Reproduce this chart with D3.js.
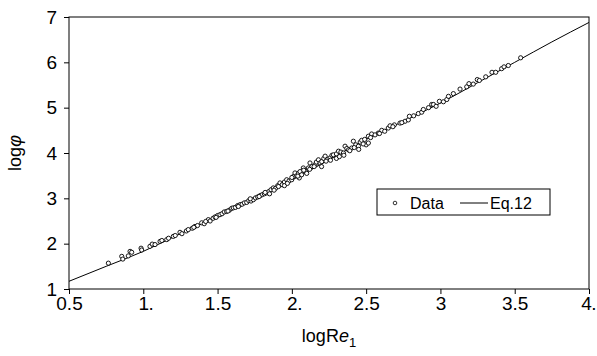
<!DOCTYPE html>
<html>
<head>
<meta charset="utf-8">
<script src="https://cdn.jsdelivr.net/npm/d3@7"></script>
<style>
  body { margin: 0; background: #fff; }
  svg { font-family: "Liberation Sans", Arial, sans-serif; }
</style>
</head>
<body>
<svg id="chart" width="597" height="356"></svg>
<script>
// measured points (logRe1, log phi)
var dataX = [0.765,0.855,0.862,0.899,0.911,0.922,0.985,0.989,1.045,1.060,1.079,1.113,1.125,1.158,1.170,1.202,1.215,1.247,1.260,1.290,1.303,1.330,1.348,1.365,1.393,1.410,1.438,1.450,1.470,1.483,1.500,1.516,1.530,1.545,1.561,1.580,1.595,1.606,1.620,1.635,1.651,1.665,1.680,1.696,1.710,1.725,1.741,1.755,1.770,1.786,1.800,1.815,1.831,1.845,1.850,1.860,1.875,1.890,1.905,1.920,1.935,1.950,1.950,1.965,1.980,1.999,2.010,2.021,2.033,2.045,2.050,2.055,2.066,2.077,2.090,2.100,2.111,2.122,2.135,2.156,2.165,2.179,2.190,2.200,2.201,2.215,2.224,2.240,2.257,2.270,2.280,2.300,2.300,2.314,2.330,2.347,2.350,2.358,2.370,2.381,2.403,2.414,2.430,2.448,2.450,2.460,2.470,2.490,2.500,2.515,2.515,2.537,2.560,2.582,2.605,2.625,2.649,2.661,2.690,2.728,2.762,2.784,2.791,2.820,2.851,2.874,2.885,2.920,2.941,2.953,2.971,2.993,3.020,3.043,3.054,3.087,3.132,3.177,3.192,3.221,3.248,3.262,3.305,3.347,3.372,3.412,3.428,3.457,3.540,
             1.340,1.420,1.490,1.570,1.640,1.720,1.780,1.820,1.880,1.910,1.970,2.000,2.040,2.080,2.120,2.150,2.230,2.260,2.320,2.390,2.420,2.480,2.530,2.590,2.680,2.740];
var dataY = [1.57,1.72,1.66,1.73,1.83,1.81,1.90,1.86,1.94,1.99,1.98,2.05,2.07,2.09,2.12,2.16,2.18,2.25,2.22,2.28,2.31,2.34,2.38,2.40,2.46,2.44,2.53,2.50,2.56,2.59,2.62,2.64,2.66,2.70,2.71,2.74,2.78,2.79,2.80,2.84,2.86,2.87,2.90,2.91,2.95,2.94,2.97,3.01,3.03,3.06,3.08,3.10,3.12,3.15,3.10,3.19,3.23,3.22,3.28,3.34,3.30,3.36,3.28,3.41,3.38,3.41,3.48,3.56,3.50,3.55,3.45,3.59,3.52,3.67,3.60,3.55,3.67,3.78,3.70,3.74,3.80,3.85,3.78,3.70,3.81,3.88,3.93,3.86,3.89,3.95,3.96,3.98,3.88,4.04,4.02,4.00,3.95,4.15,4.10,4.07,4.11,4.26,4.18,4.15,4.08,4.24,4.28,4.30,4.18,4.37,4.22,4.42,4.40,4.44,4.50,4.48,4.55,4.60,4.62,4.66,4.70,4.73,4.81,4.82,4.87,4.90,4.96,5.00,5.07,5.07,5.03,5.14,5.13,5.18,5.25,5.31,5.41,5.46,5.53,5.52,5.62,5.60,5.68,5.78,5.78,5.86,5.90,5.93,6.10,
             2.36,2.49,2.58,2.72,2.82,2.99,3.04,3.13,3.18,3.26,3.33,3.46,3.49,3.62,3.64,3.70,3.82,3.84,3.92,4.05,4.12,4.20,4.34,4.43,4.58,4.67];

// Eq.12 curve
var eqX = [0.5,0.75,1.0,1.25,1.5,1.75,2.0,2.25,2.5,2.75,3.0,3.25,3.5,3.75,4.0];
var eqY = [1.17,1.50,1.83,2.22,2.60,2.98,3.40,3.85,4.30,4.70,5.10,5.55,6.00,6.45,6.88];

var xTicks = [0.5,1,1.5,2,2.5,3,3.5,4];
var xTickLabels = ["0.5","1.","1.5","2.","2.5","3","3.5","4."];
var yTicks = [1,2,3,4,5,6,7];

var svg = d3.select("#chart"),
    margin = {top: 17, right: 8, bottom: 67, left: 69},
    width = +svg.attr("width") - margin.left - margin.right,
    height = +svg.attr("height") - margin.top - margin.bottom,
    g = svg.append("g").attr("transform", "translate(" + margin.left + "," + margin.top + ")");

var x = d3.scaleLinear().domain([0.5, 4]).range([0, width]);
var y = d3.scaleLinear().domain([1, 7]).range([height, 0]);

// frame
g.append("rect")
    .attr("width", width).attr("height", height)
    .attr("fill", "none").attr("stroke", "#000").attr("stroke-width", 1);

var xAxis = g.append("g")
    .attr("transform", "translate(0," + height + ")")
    .call(d3.axisBottom(x).tickValues(xTicks).tickSize(5).tickPadding(3).tickFormat(function(d, i) { return xTickLabels[i]; }));
xAxis.select(".domain").remove();
xAxis.selectAll("text")
    .attr("font-size", 19).attr("fill", "#000")
    .each(function(d, i) {
      // digit stays centred on the tick, the trailing dot hangs to the right
      var lab = xTickLabels[i], t = d3.select(this);
      if (/\.$/.test(lab)) {
        t.text(lab.slice(0, -1));
        var w = this.getComputedTextLength();
        var shift = i === xTicks.length - 1 ? -3 : 0;  // last one sits at the page edge
        t.attr("x", shift);
        d3.select(this.parentNode).append("text")
            .attr("x", w / 2 + shift - 0.5).attr("y", t.attr("y")).attr("dy", t.attr("dy"))
            .attr("text-anchor", "start").attr("font-size", 19).attr("fill", "#000")
            .text(".");
      }
    });

var yAxis = g.append("g")
    .call(d3.axisLeft(y).tickValues(yTicks).tickSize(5).tickPadding(7).tickFormat(d3.format("d")));
yAxis.select(".domain").remove();
yAxis.selectAll("text").attr("font-size", 19).attr("fill", "#000");

svg.selectAll(".tick line").attr("stroke", "#000");

// axis titles
var xt = svg.append("text")
    .attr("x", margin.left + width / 2).attr("y", 342)
    .attr("text-anchor", "middle").attr("font-size", 18);
xt.append("tspan").text("logR");
xt.append("tspan").attr("font-style", "italic").text("e");
xt.append("tspan").attr("font-size", 13).attr("dy", 5).text("1");

var yt = svg.append("text")
    .attr("transform", "translate(21," + (margin.top + height / 2) + ") rotate(-90)")
    .attr("text-anchor", "middle").attr("font-size", 18);
yt.append("tspan").text("log");
yt.append("tspan").attr("font-style", "italic").text("\u03c6");

// Eq.12 line
var line = d3.line()
    .x(function(d, i) { return x(eqX[i]); })
    .y(function(d, i) { return y(eqY[i]); })
    .curve(d3.curveMonotoneX);

g.append("path")
    .datum(eqX)
    .attr("fill", "none")
    .attr("stroke", "#000")
    .attr("stroke-width", 1)
    .attr("d", line);

// data circles
g.selectAll(".pt")
    .data(dataX)
  .enter().append("circle")
    .attr("class", "pt")
    .attr("cx", function(d) { return x(d); })
    .attr("cy", function(d, i) { return y(dataY[i]); })
    .attr("r", 2.1)
    .attr("fill", "#fff")
    .attr("stroke", "#000")
    .attr("stroke-width", 0.9);

// legend
var lg = svg.append("g").attr("transform", "translate(377,189)");
lg.append("rect").attr("width", 173).attr("height", 26)
    .attr("fill", "#fff").attr("stroke", "#000").attr("stroke-width", 1);
lg.append("circle").attr("cx", 18).attr("cy", 14).attr("r", 1.8)
    .attr("fill", "#fff").attr("stroke", "#000").attr("stroke-width", 0.8);
lg.append("text").attr("x", 33).attr("y", 20).attr("font-size", 16).text("Data");
lg.append("line").attr("x1", 83).attr("x2", 111).attr("y1", 14).attr("y2", 14)
    .attr("stroke", "#000").attr("stroke-width", 1);
lg.append("text").attr("x", 113).attr("y", 20).attr("font-size", 16).text("Eq.12");
</script>
</body>
</html>
